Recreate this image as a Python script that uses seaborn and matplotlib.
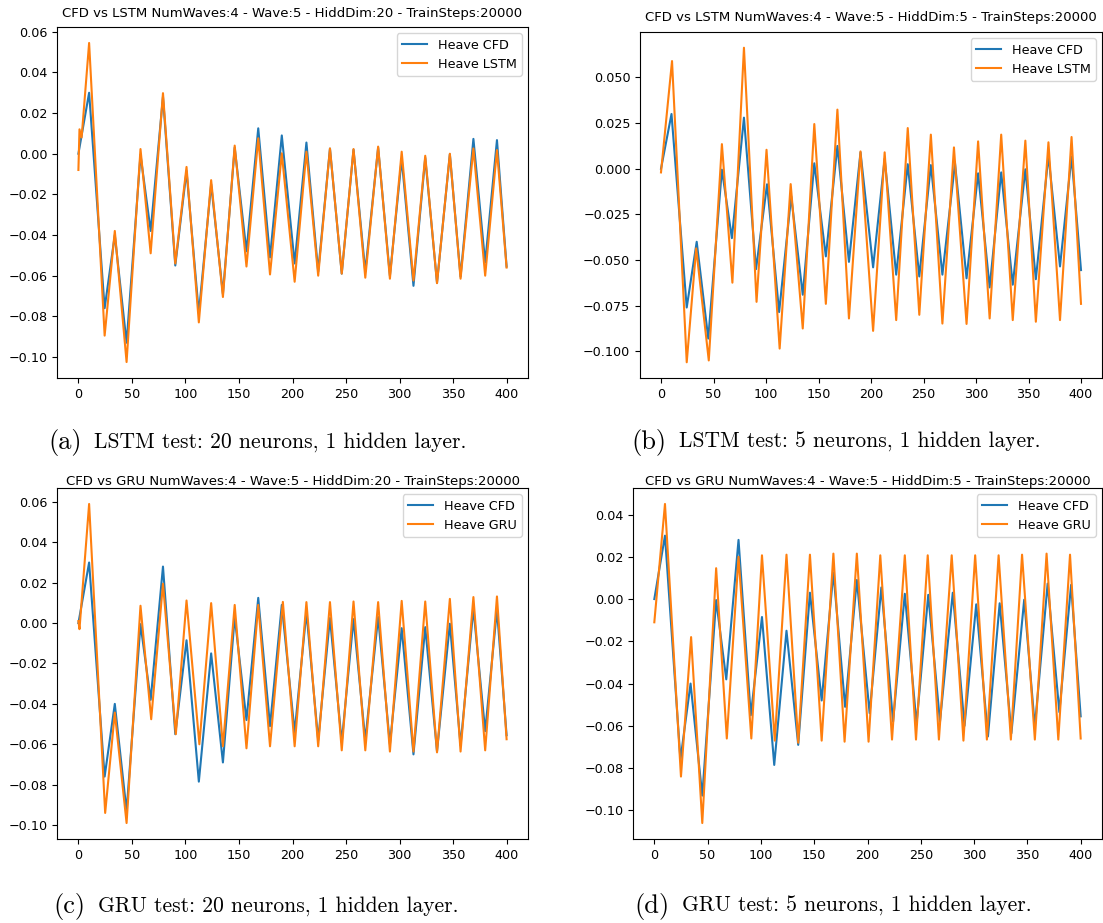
#!/usr/bin/env python3
"""CFD heave vs LSTM / GRU predictions, four test panels."""

import matplotlib

matplotlib.use("Agg")
import matplotlib.pyplot as plt
import seaborn as sns

# peaks and troughs of the CFD heave signal (same in every panel)
cfd_x = [0, 10, 24.5, 34, 45, 58, 67.5, 79, 90.5, 101, 112.5, 124, 135, 146, 157, 168,
         179, 190, 202, 213, 224, 235, 246, 257, 268, 280, 291, 302, 313, 324, 335,
         347, 357, 369, 380, 391, 400]
cfd_y = [0.000, 0.030, -0.076, -0.040, -0.093, -0.0005, -0.038, 0.028, -0.055, -0.0085,
         -0.0785, -0.015, -0.069, 0.003, -0.048, 0.0125, -0.051, 0.009, -0.054, 0.0055,
         -0.058, 0.0025, -0.059, 0.002, -0.058, 0.003, -0.060, -0.0025, -0.065, -0.002,
         -0.0635, -0.0003, -0.0605, 0.0073, -0.0535, 0.0067, -0.0555]

lstm20_x = [0, 1, 3, 10, 24.5, 34, 45, 58, 67.5, 79, 90.5, 101, 112.5, 124, 135, 146, 157,
            168, 179, 190, 202, 213, 224, 235, 246, 257, 268, 280, 291, 302, 313, 324, 335,
            347, 357, 369, 380, 391, 400]
lstm20_y = [-0.008, 0.012, 0.008, 0.0545, -0.0895, -0.038, -0.1025, 0.0023, -0.049, 0.0298,
            -0.054, -0.0065, -0.083, -0.013, -0.0705, 0.004, -0.0555, 0.0076, -0.0594, 0.0002,
            -0.063, 0.001, -0.060, 0.0026, -0.059, 0.0023, -0.061, 0.0035, -0.0615, 0.001,
            -0.0624, -0.001, -0.0637, 0.000, -0.0615, 0.0026, -0.060, 0.0018, -0.056]

lstm5_x = [0, 10.5, 24.5, 33.5, 45.5, 58, 68, 79, 91, 100.5, 113, 123.5, 135, 146, 157, 168,
           179, 190, 202, 213, 224, 235, 246, 257, 268, 279, 291, 302, 313, 324, 335, 347,
           357, 369, 380, 391, 400]
lstm5_y = [-0.002, 0.059, -0.106, -0.0436, -0.105, 0.0135, -0.0624, 0.0663, -0.0729, 0.0104,
           -0.0985, -0.0084, -0.0875, 0.0245, -0.074, 0.0324, -0.082, 0.0095, -0.0888, 0.009,
           -0.0829, 0.0223, -0.080, 0.0187, -0.0848, 0.0117, -0.085, 0.015, -0.082, 0.0187,
           -0.0829, 0.0154, -0.0838, 0.0145, -0.0829, 0.0174, -0.074]

gru20_x = [0, 1, 10, 25, 34, 45, 58, 68, 79, 91, 101, 113, 124, 135, 146, 157, 168, 179,
           191, 202, 213, 224, 235, 246, 257, 268, 280, 291, 302, 313, 324, 335, 347, 357,
           369, 380, 391, 400]
gru20_y = [0.001, -0.003, 0.059, -0.094, -0.0443, -0.099, 0.0086, -0.0476, 0.0195, -0.055,
           0.0112, -0.060, 0.0099, -0.061, 0.009, -0.062, 0.009, -0.061, 0.0105, -0.061,
           0.0104, -0.061, 0.0104, -0.063, 0.0107, -0.063, 0.0104, -0.0636, 0.011, -0.0636,
           0.0107, -0.064, 0.012, -0.0636, 0.0129, -0.063, 0.0132, -0.0575]

gru5_x = [0, 10, 25, 34.5, 45, 58, 68, 79, 91, 101, 113, 124, 135, 146, 157, 168, 178.5,
          190, 201, 212, 223, 235, 245.5, 256.5, 267, 279, 290, 301, 312, 323, 334.5, 345,
          357, 368, 379, 390, 400]
gru5_y = [-0.011, 0.045, -0.084, -0.018, -0.106, 0.0146, -0.066, 0.020, -0.066, 0.0207,
          -0.067, 0.021, -0.068, 0.021, -0.067, 0.0215, -0.0675, 0.0215, -0.0675, 0.0207,
          -0.0665, 0.0207, -0.0665, 0.0207, -0.0665, 0.0207, -0.067, 0.0207, -0.0665, 0.0207,
          -0.0665, 0.021, -0.0665, 0.0215, -0.0665, 0.021, -0.066]

panels = [
    ("CFD vs LSTM NumWaves:4 - Wave:5 - HiddDim:20 - TrainSteps:20000", "Heave LSTM",
     lstm20_x, lstm20_y, "(a)", "LSTM test: 20 neurons, 1 hidden layer."),
    ("CFD vs LSTM NumWaves:4 - Wave:5 - HiddDim:5 - TrainSteps:20000", "Heave LSTM",
     lstm5_x, lstm5_y, "(b)", "LSTM test: 5 neurons, 1 hidden layer."),
    ("CFD vs GRU NumWaves:4 - Wave:5 - HiddDim:20 - TrainSteps:20000", "Heave GRU",
     gru20_x, gru20_y, "(c)", "GRU test: 20 neurons, 1 hidden layer."),
    ("CFD vs GRU NumWaves:4 - Wave:5 - HiddDim:5 - TrainSteps:20000", "Heave GRU",
     gru5_x, gru5_y, "(d)", "GRU test: 5 neurons, 1 hidden layer."),
]

W, H = 1103, 923
# axes boxes in pixels: left, top, right, bottom
boxes = [(57, 27, 528, 378), (640, 32, 1102, 378), (57, 488, 528, 839), (633, 488, 1102, 839)]
title_y = [13, 18, 481, 481]
# caption: right edge of the tag, left edge of the text, vertical centre
caption_pos = [(82, 94, 442), (667, 679, 442), (85, 98, 906), (670, 682, 906)]

fig = plt.figure(figsize=(W / 100, H / 100), dpi=100)

for (title, model_label, mx, my, tag, caption), box, ty, cpos in zip(
    panels, boxes, title_y, caption_pos
):
    l, t, r, b = box
    ax = fig.add_axes([l / W, 1 - b / H, (r - l) / W, (b - t) / H])
    sns.lineplot(x=cfd_x, y=cfd_y, color="#1f77b4", linewidth=1.5, label="Heave CFD",
                 solid_joinstyle="round", ax=ax)
    sns.lineplot(x=mx, y=my, color="#ff7f0e", linewidth=1.5, label=model_label,
                 solid_joinstyle="round", ax=ax)
    ax.set_xticks(range(0, 401, 50))
    ax.tick_params(labelsize=9.2)
    ax.legend(loc="upper right", fontsize=9.2)
    fig.text((l + r) / 2 / W, 1 - ty / H, title, ha="center", va="center", fontsize=9.5)
    tag_x, text_x, cy = cpos
    fig.text(tag_x / W, 1 - cy / H, tag, ha="right", va="center", fontsize=19,
             family="cmr10")
    fig.text(text_x / W, 1 - cy / H, caption, ha="left", va="center", fontsize=15.5,
             family="cmr10")

fig.savefig("out.png", dpi=100)
